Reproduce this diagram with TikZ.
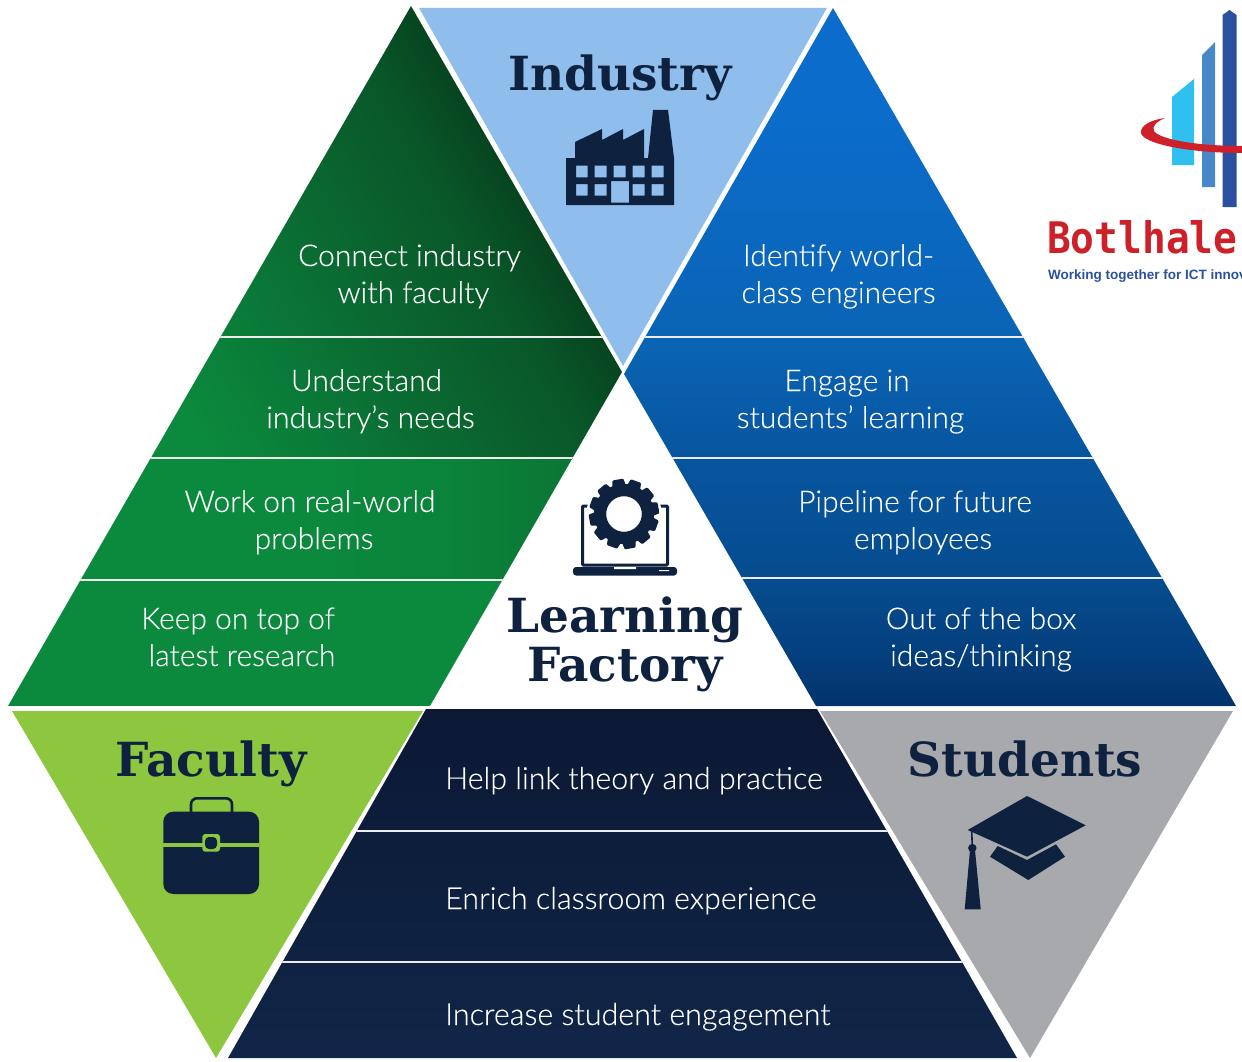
\documentclass[tikz,border=0pt]{standalone}
\usepackage{fontspec}
\setmainfont[FakeBold=0.15]{Lato Light}
\newfontfamily\slabfont{DejaVu Serif Bold}
\newfontfamily\logofont{DejaVu Sans Mono Bold}
\newfontfamily\tagfont{Liberation Sans Bold}
\definecolor{navy}{HTML}{0E2240}
\definecolor{lightblue}{HTML}{90BEEC}
\definecolor{limegreen}{HTML}{8DC63F}
\definecolor{midgrey}{HTML}{A7A9AC}
\definecolor{logored}{HTML}{CE2029}
\definecolor{logodark}{HTML}{2B50A0}
\definecolor{logomid}{HTML}{4888C8}
\definecolor{logolight}{HTML}{30C0F0}
\definecolor{brightgreen}{HTML}{0B8A3D}
\definecolor{midgreen}{HTML}{0B7535}
\pgfdeclareverticalshading{greenshade}{100bp}{
  rgb(0bp)=(0.043,0.541,0.239);
  rgb(39.3bp)=(0.043,0.541,0.239);
  rgb(45.85bp)=(0.040,0.478,0.220);
  rgb(51.5bp)=(0.040,0.420,0.196);
  rgb(59.9bp)=(0.035,0.340,0.160);
  rgb(63.7bp)=(0.024,0.270,0.125);
  rgb(100bp)=(0.024,0.270,0.125)}
\pgfdeclareverticalshading{blueshade}{100bp}{
  rgb(0bp)=(0.012,0.200,0.420);
  rgb(25bp)=(0.012,0.200,0.420);
  rgb(29bp)=(0.016,0.251,0.498);
  rgb(34bp)=(0.024,0.298,0.557);
  rgb(42.8bp)=(0.027,0.333,0.624);
  rgb(51.2bp)=(0.039,0.392,0.710);
  rgb(68.4bp)=(0.043,0.425,0.800);
  rgb(100bp)=(0.043,0.425,0.800)}
\pgfdeclareverticalshading{navyshade}{100bp}{
  rgb(0bp)=(0.063,0.148,0.283);
  rgb(25bp)=(0.063,0.148,0.283);
  rgb(75bp)=(0.045,0.095,0.205);
  rgb(100bp)=(0.045,0.095,0.205)}
\tikzset{
  x=1pt,y=-1pt,
  rowtext/.style={font=\fontsize{30}{37}\selectfont,text=white,align=center,anchor=base,inner sep=0pt},
  navytext/.style={font=\fontsize{30.4}{37}\selectfont,text=white,anchor=base west,inner sep=0pt},
  titletext/.style={font=\slabfont\fontsize{47}{49}\selectfont,text=navy,align=center,anchor=base,inner sep=0pt},
  rowline/.style={draw=white!85!gray,line width=1.1pt},
  icon/.style={fill=navy,draw=none},
}
\begin{document}
\begin{tikzpicture}
\useasboundingbox (0,0) rectangle (1242,1062);
% green block: upper rows, then the two brighter lower rows
\begin{scope}
  \clip (411,6) -- (622,372) -- (430,706) -- (8,706) -- cycle;
  \begin{scope}
    \clip (0,0) rectangle (700,458);
    \shade[shading=greenshade,shading angle=-60] (-60,-60) rectangle (760,760);
  \end{scope}
  \shade[left color=brightgreen,right color=midgreen,middle color=brightgreen!70!midgreen] (300,458) rectangle (580,580);
  \fill[brightgreen] (0,458) rectangle (300,580);
  \fill[brightgreen] (0,580) rectangle (700,706);
  \draw[rowline] (0,337) -- (700,337) (0,458) -- (700,458) (0,580) -- (700,580);
\end{scope}
% blue block
\begin{scope}
  \clip (833,8) -- (1236,706) -- (816,706) -- (624,374) -- cycle;
  \shade[shading=blueshade] (600,8) rectangle (1242,706);
  \draw[rowline] (600,337) -- (1242,337) (600,458) -- (1242,458) (600,578) -- (1242,578);
\end{scope}
% navy block
\begin{scope}
  \clip (426,709) -- (817,709) -- (1017,1058) -- (228,1058) -- cycle;
  \shade[shading=navyshade] (200,709) rectangle (1040,1058);
  \draw[rowline] (200,831) -- (1040,831) (200,962) -- (1040,962);
\end{scope}
% corner triangles
\fill[lightblue] (419,8) -- (827,8) -- (623,366) -- cycle;
\fill[limegreen] (12,711) -- (423,711) -- (216,1058) -- cycle;
\fill[midgrey] (820,711) -- (1233,711) -- (1030,1058) -- cycle;
% factory icon
\fill[icon,even odd rule]
  (566,205) -- (566,158) -- (575,158) -- (575,142) -- (602,129) -- (602,140) -- (623,129) -- (623,140) -- (644,129) -- (644,158) -- (648,158) -- (653,110) -- (668,110) -- (674,158) -- (674,205) -- cycle
  (576,165.7) rectangle (587.7,177.3) (594.7,165.7) rectangle (606.7,177.3) (613.7,165.7) rectangle (625.7,177.3) (632.7,165.7) rectangle (644.7,177.3) (651.7,165.7) rectangle (663.7,177.3)
  (576,184) rectangle (587.7,195.7) (594.7,184) rectangle (606.7,195.7) (632.7,184) rectangle (644.7,195.7) (651.7,184) rectangle (663.7,195.7)
  (611,181) rectangle (629,202.7);
% laptop and gear icon
\draw[navy,line width=3pt,rounded corners=1pt] (582.5,565) -- (582.5,506) -- (667.5,506) -- (667.5,565) -- cycle;
\fill[navy,rounded corners=3pt] (573,567) -- (677,567) -- (677,575.5) -- (573,575.5) -- cycle;
\fill[white] (614,567) rectangle (636,569.2) (659,570) rectangle (669,571.2);
\fill[white] (624,514) circle (37.5);
\foreach \a in {0,30,...,330}{
  \fill[navy,rotate around={\a+10:(624,514)},rounded corners=1pt] (618.5,479) -- (629.5,479) -- (632,492) -- (616,492) -- cycle;
}
\fill[navy,even odd rule] (624,514) circle (30) (624,514) circle (17.8);
% briefcase icon
\draw[navy,line width=2.6pt,rounded corners=6pt] (191,813) -- (191,798.3) -- (232,798.3) -- (232,813);
\fill[navy,rounded corners=10pt] (163.3,811.7) rectangle (259,894);
\fill[limegreen] (163.3,842.7) rectangle (259,846.7);
\fill[limegreen,rounded corners=3pt] (202.3,834) rectangle (220,851.7);
\fill[navy,rounded corners=4pt] (205,837) rectangle (217,849);
% graduation cap icon
\fill[icon] (1027,796) -- (1085.7,825.3) -- (1027,856.7) -- (967.7,830) -- cycle;
\fill[icon] (997.7,846) -- (1027,860) -- (1056,844.3) -- (1065,856.7) -- (1028.3,880) -- (990,856.7) -- cycle;
\draw[navy,line width=1.6pt] (971.7,830) -- (972.3,848);
\fill[navy] (972.3,848) circle (4.2);
\fill[icon] (970,850) -- (975,850) -- (980.7,909.3) -- (964.7,909.3) -- cycle;
% logo
\fill[logodark] (1222.5,15) -- (1229.5,10) -- (1236.5,15) -- (1236.5,207) -- (1222.5,207) -- cycle;
\fill[logomid] (1202,55) -- (1215,42) -- (1215,187) -- (1202,187) -- cycle;
\fill[logolight] (1172,97) -- (1194,79) -- (1194,165) -- (1172,165) -- cycle;
\fill[logored] (1165,118) .. controls (1150,120) and (1140,126) .. (1141,133) .. controls (1143,144) and (1190,153) .. (1242,153) -- (1242,146) .. controls (1200,146) and (1160,140) .. (1154,131) .. controls (1151,126) and (1158,121) .. (1165,118) -- cycle;
\node[anchor=base west,inner sep=0pt,text=logored,font=\logofont\fontsize{39.5}{39.5}\selectfont,yscale=1.1] (botlhale) at (1047,253) {Botlhale};
\begin{scope}
  \clip (1040,260) rectangle (1242,290);
  \node[anchor=base west,inner sep=0pt,text=logodark,font=\tagfont\fontsize{13.5}{13.5}\selectfont] (tagline) at (1048,279) {Working together for ICT innov};
\end{scope}
% titles
\node[titletext] (industry) at (620,91) {Industry};
\node[titletext] (faculty) at (211,776) {Faculty};
\node[titletext] (students) at (1025,776) {Students};
\node[titletext] (factory) at (625,681) {Learning\\Factory};
% green rows
\node[rowtext] (g1) at (409.5,303) {Connect industry\\\hspace*{8pt}with faculty};
\node[rowtext] (g2) at (366.5,428) {Understand\\\hspace*{8pt}industry’s needs};
\node[rowtext] (g3) at (310,549) {Work on real-world\\\hspace*{8pt}problems};
\node[rowtext] (g4) at (238,666) {Keep on top of\\\hspace*{8pt}latest research};
% blue rows
\node[rowtext] (b1) at (838.5,303) {Identify world-\\class engineers};
\node[rowtext] (b2) at (847,428) {Engage in\\\hspace*{7pt}students’ learning};
\node[rowtext] (b3) at (915,549) {Pipeline for future\\\hspace*{16pt}employees};
\node[rowtext] (b4) at (981,666) {Out of the box\\ideas/thinking};
% navy rows
\node[navytext] (n1) at (445,789) {Help link theory and practice};
\node[navytext] (n2) at (445,909) {Enrich classroom experience};
\node[navytext] (n3) at (445,1025) {Increase student engagement};
\end{tikzpicture}
\end{document}
